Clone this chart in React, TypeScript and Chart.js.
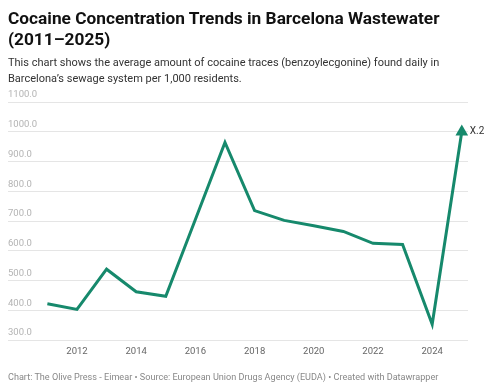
import React, { useEffect, useRef } from "react";
import { Chart, registerables } from "chart.js";

Chart.register(...registerables);

const years = [2011, 2012, 2013, 2014, 2015, 2016, 2017, 2018, 2019, 2020, 2021, 2022, 2023, 2024, 2025];
const values = [422, 403, 538, 462, 447, 705, 964, 735, 702, 684, 665, 625, 621, 353, 1000];
const xTicks = [2012, 2014, 2016, 2018, 2020, 2022, 2024];
const yTicks = [300, 400, 500, 600, 700, 800, 900, 1000, 1100];
const endLabel = "X.2";

const LINE = "#16896c";

export default function App() {
  const ref = useRef<HTMLCanvasElement>(null);
  useEffect(() => {
    const canvas = ref.current!;
    const labelPlugin = {
      id: "endLabel",
      afterDatasetsDraw(chart: any) {
        const meta = chart.getDatasetMeta(0);
        const pt = meta.data[meta.data.length - 1];
        const ctx = chart.ctx;
        ctx.save();
        ctx.font = "10px Roboto";
        ctx.fillStyle = "#333";
        ctx.textAlign = "left";
        ctx.textBaseline = "middle";
        ctx.fillText(endLabel, pt.x + 8, pt.y);
        ctx.restore();
      },
    };
    const n = values.length;
    const chart = new Chart(canvas, {
      type: "line",
      data: {
        datasets: [
          {
            data: years.map((y, i) => ({ x: y, y: values[i] })),
            borderColor: LINE,
            backgroundColor: LINE,
            borderWidth: 3,
            tension: 0,
            pointRadius: values.map((_, i) => (i === n - 1 ? 7.3 : 0)),
            pointHoverRadius: values.map((_, i) => (i === n - 1 ? 7.3 : 0)),
            pointStyle: values.map((_, i) => (i === n - 1 ? "triangle" : "circle")) as any,
            pointBorderWidth: 0,
            pointBackgroundColor: LINE,
            pointBorderColor: LINE,
            borderJoinStyle: "miter",
          } as any,
        ],
      },
      options: {
        responsive: false,
        animation: false,
        layout: { padding: { left: 8, right: 22, top: 102, bottom: 0 } },
        plugins: { legend: { display: false }, tooltip: { enabled: false } },
        scales: {
          x: {
            type: "linear",
            min: 2009.67,
            max: 2025.21,
            afterBuildTicks: (axis: any) => {
              axis.ticks = xTicks.map((v) => ({ value: v }));
            },
            afterFit: (axis: any) => {
              axis.height = 50;
            },
            grid: { display: false, drawTicks: false },
            border: { display: false },
            ticks: {
              color: "#666",
              font: { family: "Roboto", size: 9.5 },
              padding: 6,
              maxRotation: 0,
              callback: (v: any) => String(v),
            },
          },
          y: {
            min: 300,
            max: 1100,
            afterBuildTicks: (axis: any) => {
              axis.ticks = yTicks.map((v) => ({ value: v }));
            },
            afterFit: (axis: any) => {
              axis.width = 0;
            },
            grid: { color: "#e5e5e5", drawTicks: false, lineWidth: 1 },
            border: { display: false },
            ticks: {
              mirror: true,
              padding: 0,
              labelOffset: -7,
              color: "#b3b3b3",
              font: { family: "Roboto", size: 9.5 },
              callback: (v: any) => Number(v).toFixed(1),
            },
          },
        },
      },
      plugins: [labelPlugin],
    });
    return () => chart.destroy();
  }, []);

  return (
    <div style={{ position: "absolute", left: 0, top: 0, width: 490, height: 390, fontFamily: "Roboto, sans-serif", background: "#fff" }}>
      <canvas ref={ref} width={490} height={390} style={{ position: "absolute", left: 0, top: 0 }} />
      <div style={{ position: "absolute", left: 8, top: 8, width: 470, fontSize: 17.3, fontWeight: 700, lineHeight: "21px", color: "#111" }}>
        Cocaine Concentration Trends in Barcelona Wastewater (2011–2025)
      </div>
      <div style={{ position: "absolute", left: 8, top: 55, width: 470, fontSize: 11, lineHeight: "16px", color: "#333" }}>
        This chart shows the average amount of cocaine traces (benzoylecgonine) found daily in Barcelona’s sewage system per 1,000 residents.
      </div>
      <div style={{ position: "absolute", left: 8, top: 370, width: 480, fontSize: 9.1, lineHeight: "14px", color: "#888", whiteSpace: "nowrap" }}>
        Chart: The Olive Press - Eimear • Source: European Union Drugs Agency (EUDA) • Created with Datawrapper
      </div>
    </div>
  );
}
